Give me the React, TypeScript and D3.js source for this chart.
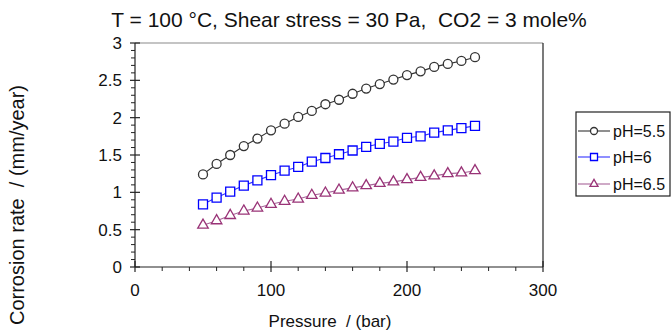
import React from "react";
import * as d3 from "d3";

// Pressure (bar) at which corrosion rate was evaluated
const pressure = [50, 60, 70, 80, 90, 100, 110, 120, 130, 140, 150, 160, 170, 180, 190, 200, 210, 220, 230, 240, 250];
// Corrosion rate (mm/year) for each pH
const ph55 = [1.24, 1.38, 1.5, 1.62, 1.72, 1.83, 1.92, 2.01, 2.09, 2.18, 2.24, 2.32, 2.39, 2.45, 2.51, 2.57, 2.62, 2.68, 2.72, 2.76, 2.81];
const ph6 = [0.84, 0.93, 1.01, 1.09, 1.16, 1.23, 1.29, 1.34, 1.41, 1.46, 1.51, 1.56, 1.61, 1.65, 1.68, 1.73, 1.75, 1.8, 1.83, 1.86, 1.89];
const ph65 = [0.56, 0.62, 0.69, 0.75, 0.79, 0.84, 0.88, 0.91, 0.96, 0.99, 1.03, 1.06, 1.09, 1.12, 1.14, 1.17, 1.2, 1.22, 1.25, 1.26, 1.29];

const seriesNames = ["pH=5.5", "pH=6", "pH=6.5"];
const xTicks = [0, 100, 200, 300];
const yTicks = [0, 0.5, 1, 1.5, 2, 2.5, 3];

const title = "T = 100 \u00B0C, Shear stress = 30 Pa,  CO2 = 3 mole%";
const xTitle = "Pressure  / (bar)";
const yTitle = "Corrosion rate  / (mm/year)";

const W = 672;
const H = 334;
const plot = { left: 135, right: 543, top: 43, bottom: 267 };
const FONT = "'Liberation Sans', Arial, Helvetica, sans-serif";
const pre = { whiteSpace: "pre" as const };

type Shape = "circle" | "square" | "triangle";
const styles: { line: string; stroke: string; shape: Shape }[] = [
  { line: "#333333", stroke: "#333333", shape: "circle" },
  { line: "#3333ff", stroke: "#0000ff", shape: "square" },
  { line: "#a8659a", stroke: "#993377", shape: "triangle" },
];

function Marker({ shape, x, y, s, stroke }: { shape: Shape; x: number; y: number; s: number; stroke: string }) {
  const symType = shape === "circle" ? d3.symbolCircle : shape === "square" ? d3.symbolSquare : d3.symbolTriangle;
  const area = shape === "circle" ? Math.PI * (s / 2) ** 2 : shape === "square" ? s * s : (s * s * Math.sqrt(3)) / 4;
  const d = d3.symbol().type(symType).size(area)() as string;
  return <path d={d} transform={`translate(${x},${y})`} fill="#fff" stroke={stroke} strokeWidth={1.3} />;
}

export default function App() {
  const x = d3.scaleLinear().domain([0, 300]).range([plot.left, plot.right]);
  const y = d3.scaleLinear().domain([0, 3]).range([plot.bottom, plot.top]);
  const series = [ph55, ph6, ph65];
  const line = d3
    .line<number>()
    .x((_, i) => x(pressure[i]))
    .y((v) => y(v));

  const xMinor = d3.range(0, 301, 20).filter((v) => v % 100 !== 0);
  const yMinor = d3.range(0, 31, 1).map((v) => v / 10).filter((v) => Math.round(v * 10) % 5 !== 0);

  const legend = { left: 576, right: 670, top: 112, bottom: 196 };
  const legendRows = [131, 157, 184];

  return (
    <svg width={W} height={H} style={{ position: "absolute", left: 0, top: 0, background: "#fff" }} fontFamily={FONT}>
      <rect x={0} y={0} width={W} height={H} fill="#fff" />
      <text x={349} y={27} textAnchor="middle" fontSize={21} fill="#111" style={pre}>
        {title}
      </text>

      {/* plot frame */}
      <line x1={plot.left} x2={plot.right} y1={plot.top} y2={plot.top} stroke="#8a8a8a" strokeWidth={1.2} />
      <line x1={plot.right} x2={plot.right} y1={plot.top} y2={plot.bottom} stroke="#222" strokeWidth={1.2} />

      {/* series */}
      {series.map((vals, si) => (
        <g key={si}>
          <path d={line(vals) as string} fill="none" stroke={styles[si].line} strokeWidth={1.1} />
          {vals.map((v, i) => (
            <Marker key={i} shape={styles[si].shape} x={x(pressure[i])} y={y(v)} s={si === 2 ? 10.5 : 9} stroke={styles[si].stroke} />
          ))}
        </g>
      ))}

      {/* axes */}
      <line x1={plot.left} x2={plot.right} y1={plot.bottom} y2={plot.bottom} stroke="#222" strokeWidth={1.2} />
      <line x1={plot.left} x2={plot.left} y1={plot.top} y2={plot.bottom} stroke="#222" strokeWidth={1.2} />
      {xMinor.map((v) => (
        <line key={v} x1={x(v)} x2={x(v)} y1={plot.bottom} y2={plot.bottom + 4} stroke="#222" />
      ))}
      {xTicks.map((v) => (
        <g key={v}>
          <line x1={x(v)} x2={x(v)} y1={plot.bottom - 6} y2={plot.bottom + 5} stroke="#222" strokeWidth={1.2} />
          <text x={x(v)} y={296} textAnchor="middle" fontSize={17} fill="#111">
            {v}
          </text>
        </g>
      ))}
      {yMinor.map((v) => (
        <line key={v} x1={plot.left - 4} x2={plot.left} y1={y(v)} y2={y(v)} stroke="#222" />
      ))}
      {yTicks.map((v) => (
        <g key={v}>
          <line x1={plot.left - 5} x2={plot.left + 5} y1={y(v)} y2={y(v)} stroke="#222" strokeWidth={1.2} />
          <text x={122} y={y(v)} dy="0.35em" textAnchor="end" fontSize={17} fill="#111">
            {v}
          </text>
        </g>
      ))}

      <text x={330} y={327} textAnchor="middle" fontSize={17} fill="#111" style={pre}>
        {xTitle}
      </text>
      <text transform={`translate(24,205) rotate(-90)`} textAnchor="middle" fontSize={20} fill="#111" style={pre}>
        {yTitle}
      </text>

      {/* legend */}
      <rect
        x={legend.left}
        y={legend.top}
        width={legend.right - legend.left}
        height={legend.bottom - legend.top}
        fill="#fff"
        stroke="#222"
        strokeWidth={1.2}
      />
      {seriesNames.map((name, i) => (
        <g key={name}>
          <line x1={578} x2={610} y1={legendRows[i]} y2={legendRows[i]} stroke={styles[i].line} strokeWidth={1.1} />
          <Marker shape={styles[i].shape} x={594} y={legendRows[i]} s={i === 2 ? 8 : 7} stroke={styles[i].stroke} />
          <text x={613} y={legendRows[i]} dy="0.35em" fontSize={16} fill="#111">
            {name}
          </text>
        </g>
      ))}
    </svg>
  );
}
